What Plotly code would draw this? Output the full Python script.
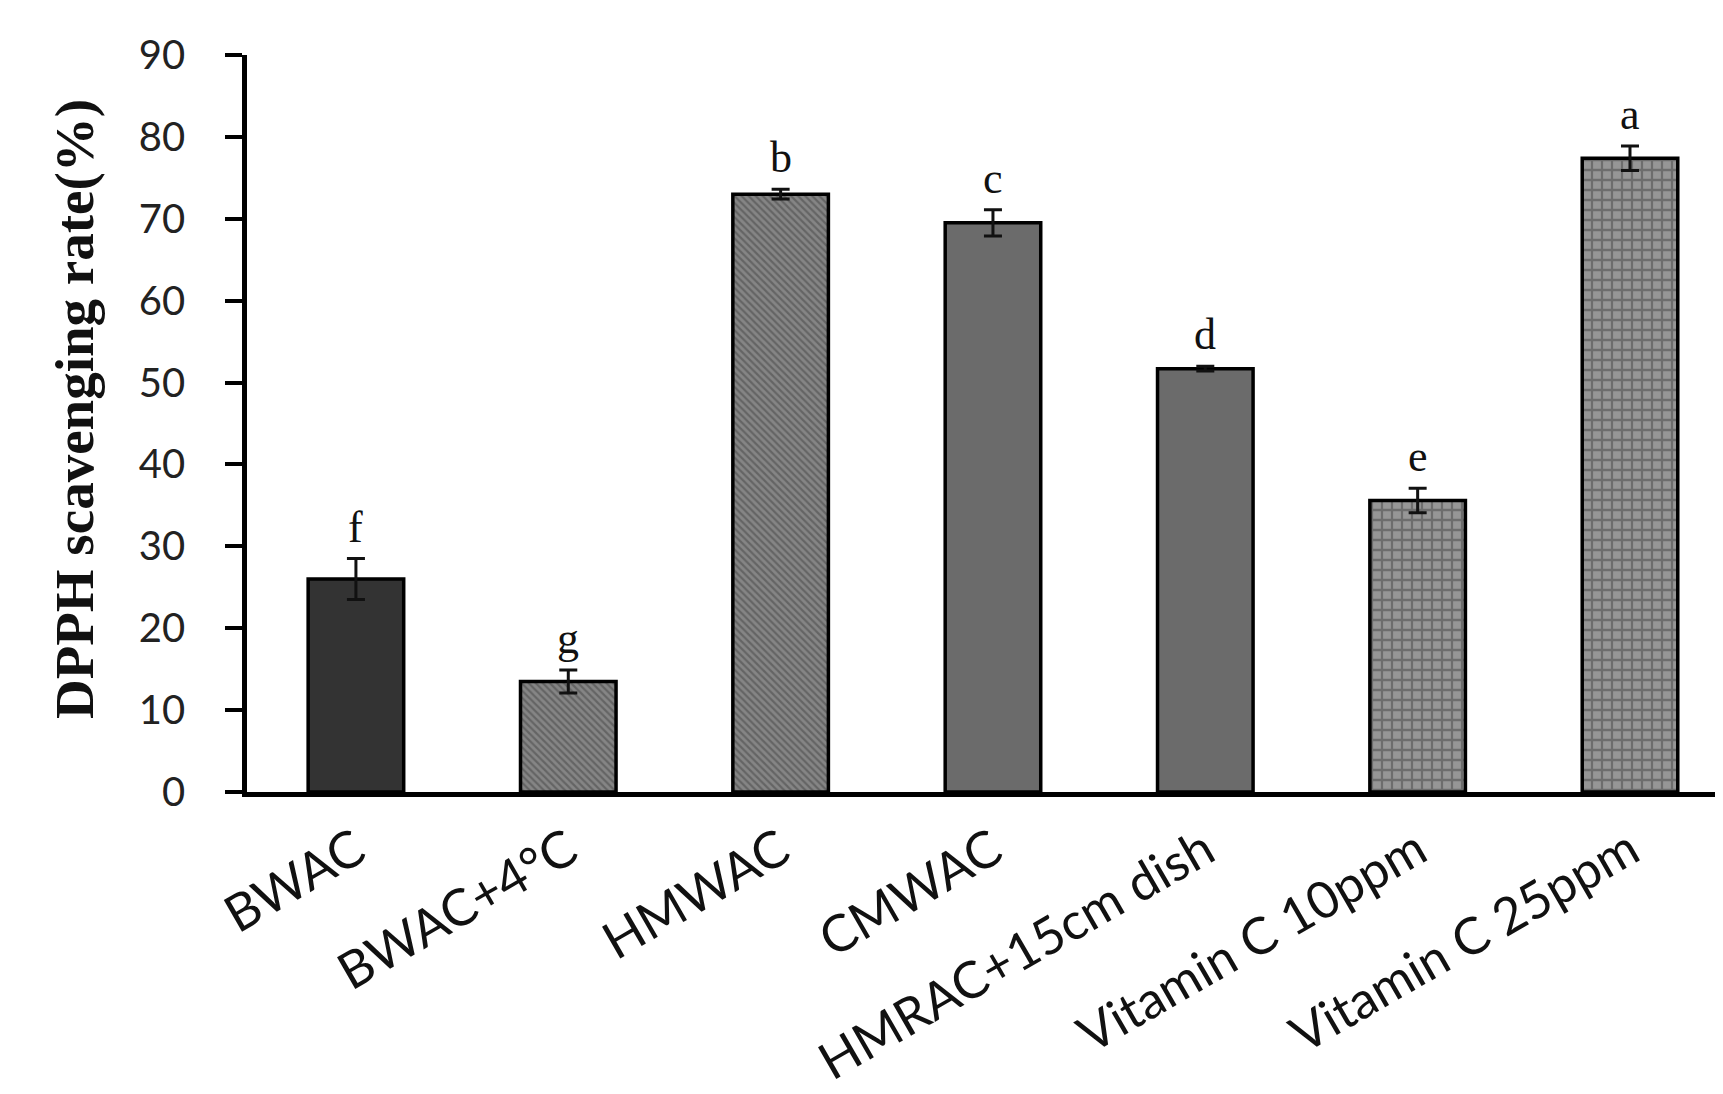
import plotly.graph_objects as go

categories = ["BWAC", "BWAC+4°C", "HMWAC", "CMWAC", "HMRAC+15cm dish",
              "Vitamin C 10ppm", "Vitamin C 25ppm"]
values = [26.0, 13.5, 73.0, 69.5, 51.7, 35.6, 77.4]
errors = [2.5, 1.4, 0.6, 1.6, 0.3, 1.5, 1.5]
letters = ["f", "g", "b", "c", "d", "e", "a"]
y_ticks = [0, 10, 20, 30, 40, 50, 60, 70, 80, 90]

bar_colors = ["#333333", "#858585", "#858585", "#6b6b6b", "#6b6b6b", "#969696", "#969696"]
pat_shapes = ["", "\\", "\\", "", "", "+", "+"]
pat_fg = ["#000000", "#111111", "#111111", "#000000", "#000000", "#1a1a1a", "#1a1a1a"]
pat_size = [6, 5, 5, 6, 6, 10, 10]
pat_sol = [0.3, 0.45, 0.45, 0.3, 0.3, 0.4, 0.4]

xs = list(range(len(categories)))

fig = go.Figure()
fig.add_trace(go.Bar(
    x=xs, y=values, width=0.45,
    marker=dict(color=bar_colors,
                line=dict(color="#000000", width=3.5),
                pattern=dict(shape=pat_shapes, fgcolor=pat_fg, size=pat_size,
                             solidity=pat_sol, fillmode="overlay")),
    error_y=dict(type="data", array=errors, symmetric=True, color="#111111",
                 thickness=3, width=9),
    showlegend=False,
))

for xi, v, e, t in zip(xs, values, errors, letters):
    fig.add_annotation(x=xi, y=v + e, text=t, showarrow=False, yanchor="bottom",
                       yshift=5, font=dict(family="Liberation Serif", size=44, color="#111111"))

fig.add_annotation(xref="paper", yref="paper", x=-0.117, y=0.52,
                   text="<b>DPPH scavenging rate(%)</b>", textangle=-90, showarrow=False,
                   xanchor="center", yanchor="middle",
                   font=dict(family="Liberation Serif", size=55, color="#111111"))

fig.update_layout(
    width=1715, height=1086,
    margin=dict(l=239, r=0, t=47, b=302),
    plot_bgcolor="white", paper_bgcolor="white",
)
fig.update_xaxes(
    range=[-0.513, 6.438], tickmode="array", tickvals=xs, ticktext=categories,
    tickangle=-30, ticks="", showline=True, linecolor="#000000", linewidth=4.5,
    showgrid=False, zeroline=False, ticklabelstandoff=4,
    tickfont=dict(family="Lato", size=51, color="#111111"),
)
fig.update_yaxes(
    range=[0, 90], tickvals=y_ticks, ticks="outside", ticklen=17, tickwidth=4,
    tickcolor="#000000", showline=True, linecolor="#000000", linewidth=4.5,
    showgrid=False, zeroline=False, ticklabelstandoff=32,
    tickfont=dict(family="Lato", size=40, color="#222222"),
)

fig.write_html("out.html")
